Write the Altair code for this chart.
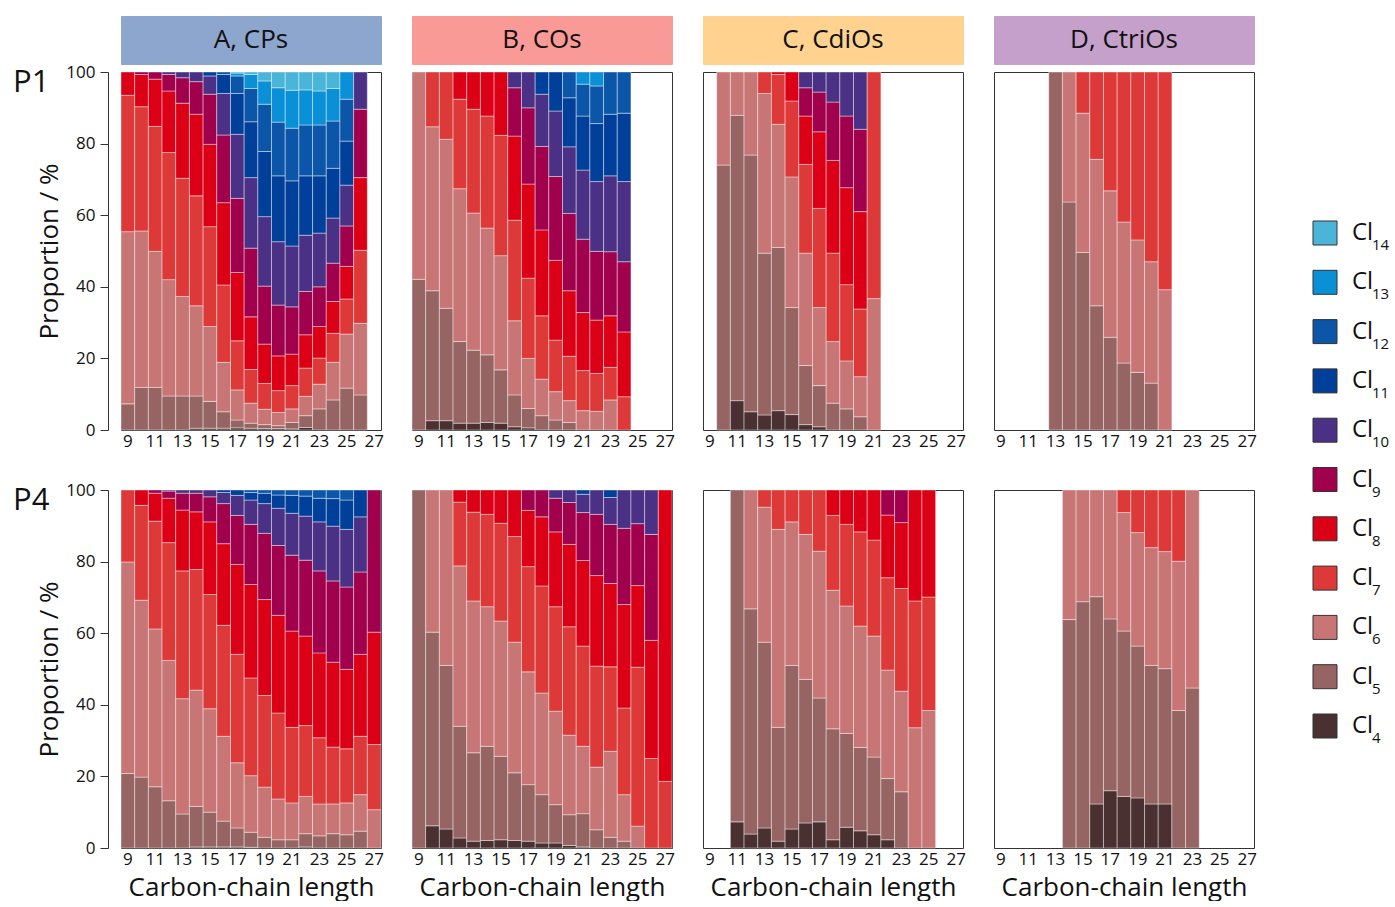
import altair as alt
import pandas as pd

FONT = "Open Sans"

CLASSES = ["Cl4", "Cl5", "Cl6", "Cl7", "Cl8", "Cl9", "Cl10", "Cl11", "Cl12", "Cl13", "Cl14"]
COLORS = ["#4A3030", "#966563", "#C87575", "#DE3939", "#DB0016", "#A0004C",
          "#4B3185", "#00409A", "#0B56A8", "#0A90D6", "#4AB5D8"]
CARBON = list(range(9, 28))

# proportions (%) of Cl4, Cl5, Cl6, ... for each carbon-chain length
A_P1 = {
    9: [0, 7.3, 48.1, 38.1, 6.5],
    10: [0, 11.9, 43.7, 34.7, 9.0, 0.7],
    11: [0, 11.9, 38.0, 34.9, 13.2, 2.0],
    12: [0, 9.5, 32.5, 35.5, 17.2, 4.6, 0.7],
    13: [0, 9.5, 27.8, 33.0, 21.0, 7.1, 1.6],
    14: [0.5, 9.0, 25.2, 30.7, 22.8, 9.1, 2.7],
    15: [0.5, 7.5, 20.9, 27.9, 23.0, 14.0, 5.1, 1.1],
    16: [0.5, 4.6, 13.8, 21.6, 23.0, 18.9, 11.6, 5.3, 0.7],
    17: [0.6, 2.2, 8.4, 13.7, 19.1, 20.7, 17.9, 11.4, 4.9, 0.8, 0.3],
    18: [0.5, 1.4, 5.6, 9.4, 14.7, 19.2, 19.7, 15.6, 9.3, 3.9, 0.7],
    19: [0.4, 1.1, 4.3, 7.2, 11.0, 16.2, 19.4, 18.2, 13.2, 6.5, 2.5],
    20: [0.4, 0.8, 3.7, 6.1, 9.7, 14.2, 17.7, 18.4, 15.0, 9.6, 4.4],
    21: [0.3, 1.8, 3.8, 6.5, 8.8, 13.2, 17.0, 18.2, 14.7, 10.6, 5.1],
    22: [0.7, 3.3, 5.4, 7.9, 9.3, 12.1, 15.7, 16.6, 14.2, 9.8, 5.0],
    23: [0, 5.9, 6.9, 7.3, 8.8, 11.1, 15.0, 16.0, 14.2, 9.5, 5.3],
    24: [0, 8.4, 10.5, 8.1, 8.9, 10.7, 12.6, 13.9, 13.2, 9.1, 4.6],
    25: [0, 11.7, 15.1, 9.8, 9.1, 11.3, 11.4, 12.3, 11.7, 7.6],
    26: [0, 9.8, 20.0, 20.4, 20.3, 19.1, 10.4],
}
B_P1 = {
    9: [0, 42.1, 57.9],
    10: [2.6, 36.3, 45.8, 15.3],
    11: [2.6, 31.4, 47.2, 18.8],
    12: [1.9, 22.8, 42.7, 25.0, 7.6],
    13: [1.9, 20.4, 38.3, 29.0, 10.4],
    14: [2.1, 18.9, 35.4, 31.3, 12.3],
    15: [1.9, 14.9, 31.9, 33.6, 17.7],
    16: [0.9, 8.9, 20.7, 28.1, 23.5, 13.5, 4.4],
    17: [0.6, 5.4, 14.0, 22.4, 26.3, 21.3, 10.0],
    18: [0, 4.0, 10.2, 17.7, 24.0, 23.3, 14.6, 6.2],
    19: [0, 2.8, 7.9, 14.4, 22.3, 23.4, 18.3, 10.9],
    20: [0, 2.1, 6.1, 12.4, 18.3, 21.6, 18.6, 13.7, 7.2],
    21: [0, 0, 5.4, 11.2, 16.2, 20.5, 19.3, 15.1, 8.9, 3.4],
    22: [0, 0, 5.2, 10.6, 14.9, 19.2, 19.5, 16.2, 10.5, 3.9],
    23: [0, 0, 8.4, 9.1, 14.4, 17.9, 21.2, 17.2, 11.8],
    24: [0, 0, 0, 9.3, 18.1, 19.6, 22.4, 19.1, 11.5],
}
C_P1 = {
    10: [0, 74.0, 26.0],
    11: [8.2, 79.7, 12.1],
    12: [5.1, 71.7, 23.2],
    13: [4.2, 45.2, 44.6, 6.0],
    14: [5.4, 45.6, 34.4, 13.9, 0.7],
    15: [4.3, 29.9, 36.5, 21.2, 8.1],
    16: [1.5, 16.5, 31.4, 24.8, 13.5, 7.9, 4.4],
    17: [0.9, 11.5, 21.8, 27.7, 21.4, 11.1, 5.6],
    18: [0, 7.5, 17.2, 24.7, 25.9, 16.3, 8.4],
    19: [0, 5.9, 13.4, 21.3, 27.1, 20.0, 12.3],
    20: [0, 3.7, 11.2, 18.9, 27.2, 23.0, 16.0],
    21: [0, 0, 36.7, 63.3],
}
D_P1 = {
    13: [0, 100],
    14: [0, 63.7, 36.3],
    15: [0, 49.6, 38.9, 11.5],
    16: [0, 34.7, 40.9, 24.4],
    17: [0, 25.9, 40.9, 33.2],
    18: [0, 18.7, 39.4, 41.9],
    19: [0, 16.1, 37.0, 46.9],
    20: [0, 13.1, 33.9, 53.0],
    21: [0, 0, 39.2, 60.8],
}
A_P4 = {
    9: [0, 20.8, 59.1, 20.1],
    10: [0, 19.8, 49.4, 26.5, 4.3],
    11: [0, 17.1, 44.1, 30.1, 7.8, 0.9],
    12: [0, 13.2, 39.2, 32.9, 12.4, 2.0, 0.3],
    13: [0, 9.5, 32.2, 35.7, 17.0, 4.7, 0.9],
    14: [0.3, 11.3, 32.5, 33.7, 16.1, 5.2, 0.9],
    15: [0.3, 9.7, 28.9, 31.9, 20.3, 7.0, 1.9],
    16: [0.3, 7.2, 23.7, 31.0, 22.8, 11.2, 3.1, 0.7],
    17: [0.3, 5.3, 18.2, 30.3, 25.1, 13.7, 5.6, 1.5],
    18: [0.2, 4.2, 15.8, 27.3, 26.1, 16.8, 6.8, 2.1, 0.7],
    19: [0, 3.0, 14.0, 25.6, 26.8, 18.5, 8.3, 2.9, 0.9],
    20: [0, 2.3, 11.4, 24.0, 27.3, 19.5, 10.4, 3.7, 1.4],
    21: [0, 2.3, 10.3, 21.1, 26.9, 21.2, 11.7, 5.0, 1.5],
    22: [0.3, 3.7, 10.4, 19.8, 25.0, 21.2, 12.3, 5.6, 1.7],
    23: [0, 3.4, 8.9, 18.5, 23.7, 22.9, 13.7, 6.6, 2.3],
    24: [0, 4.0, 8.3, 15.9, 23.7, 22.7, 15.3, 7.7, 2.4],
    25: [0, 3.7, 8.9, 15.1, 22.2, 23.0, 16.1, 8.2, 2.8],
    26: [0, 4.7, 10.2, 16.3, 22.9, 23.0, 15.4, 7.5],
    27: [0, 0, 10.7, 18.2, 31.4, 39.7],
}
B_P4 = {
    9: [0, 100],
    10: [6.2, 54.1, 39.7],
    11: [5.3, 45.7, 49.0],
    12: [2.8, 31.2, 44.8, 17.8, 3.4],
    13: [1.9, 24.7, 42.4, 24.8, 6.2],
    14: [2.1, 26.3, 39.0, 25.8, 6.8],
    15: [2.3, 23.3, 37.8, 27.3, 9.3],
    16: [2.1, 18.9, 36.5, 29.5, 13.0],
    17: [1.9, 15.8, 31.5, 29.4, 15.7, 5.7],
    18: [1.4, 13.5, 28.4, 29.9, 19.3, 7.5],
    19: [1.4, 10.7, 26.1, 29.2, 20.9, 9.4, 2.3],
    20: [0.7, 8.6, 22.2, 30.3, 23.0, 11.7, 3.5],
    21: [0.3, 9.3, 18.8, 28.0, 23.9, 13.4, 5.1, 1.2],
    22: [0, 5.1, 17.5, 28.2, 25.3, 17.1, 6.8],
    23: [0, 3.0, 24.0, 23.6, 23.3, 16.5, 7.5, 2.1],
    24: [0, 1.9, 13.0, 24.2, 28.9, 21.3, 10.7],
    25: [0, 0, 6.1, 44.4, 22.8, 17.3, 9.4],
    26: [0, 0, 0, 25.0, 33.0, 29.6, 12.4],
    27: [0, 0, 0, 18.6, 81.4],
}
C_P4 = {
    11: [7.3, 92.7],
    12: [3.9, 62.9, 33.2],
    13: [5.6, 51.9, 37.7, 4.8],
    14: [1.9, 31.8, 55.3, 11.0],
    15: [5.3, 45.7, 40.1, 8.9],
    16: [7.0, 40.1, 40.5, 12.4],
    17: [7.3, 34.6, 41.0, 17.1],
    18: [2.3, 31.0, 38.7, 20.9, 7.1],
    19: [5.8, 26.2, 35.6, 22.8, 9.6],
    20: [4.8, 23.3, 33.9, 26.3, 11.7],
    21: [3.7, 21.7, 33.8, 26.8, 14.0],
    22: [2.3, 17.1, 30.3, 25.8, 17.5, 7.0],
    23: [0, 15.7, 28.1, 28.7, 18.4, 9.1],
    24: [0, 0, 33.6, 35.4, 31.0],
    25: [0, 0, 38.4, 31.7, 29.9],
}
D_P4 = {
    14: [0, 63.8, 36.2],
    15: [0, 68.8, 31.2],
    16: [12.3, 57.9, 29.8],
    17: [16.0, 48.0, 36.0],
    18: [14.4, 46.2, 33.1, 6.3],
    19: [14.0, 42.4, 31.7, 11.9],
    20: [12.3, 38.7, 32.9, 16.1],
    21: [12.3, 37.8, 32.7, 17.2],
    22: [0, 38.4, 41.7, 19.9],
    23: [0, 44.7, 55.3],
}

HEADERS = [("A", "A, CPs", "#8DA6CE"), ("B", "B, COs", "#F99A97"),
           ("C", "C, CdiOs", "#FFD28F"), ("D", "D, CtriOs", "#C4A0CB")]
TABLES = {("P1", "A"): A_P1, ("P1", "B"): B_P1, ("P1", "C"): C_P1, ("P1", "D"): D_P1,
          ("P4", "A"): A_P4, ("P4", "B"): B_P4, ("P4", "C"): C_P4, ("P4", "D"): D_P4}

records = []
for (row, col), table in TABLES.items():
    for c, props in table.items():
        for i, v in enumerate(props):
            if v > 0:
                records.append({"row": row, "col": col, "carbon": c, "cl": CLASSES[i], "k": i, "value": v})
df = pd.DataFrame(records)

PW, PH = 260, 358
AXIS_COLOR = "#333333"
ROW_LABEL_X = -108


def panel(row, col):
    d = df[(df["row"] == row) & (df["col"] == col)]
    xscale = alt.Scale(domain=CARBON, paddingInner=0, paddingOuter=0)
    if row == "P4":
        x = alt.X("carbon:O", title="Carbon-chain length", scale=xscale,
                  axis=alt.Axis(values=list(range(9, 28, 2)), labelAngle=0, ticks=False, domain=False,
                                labelFontSize=17, labelPadding=3, titleFontSize=26,
                                titleFontWeight="normal", titlePadding=7))
    else:
        x = alt.X("carbon:O", title=None, scale=xscale,
                  axis=alt.Axis(values=list(range(9, 28, 2)), labelAngle=0, ticks=False, domain=False,
                                labelFontSize=17, labelPadding=3))
    if col == "A":
        y = alt.Y("value:Q", stack="normalize", title="Proportion / %",
                  scale=alt.Scale(domain=[0, 1], nice=False),
                  axis=alt.Axis(values=[0, 0.2, 0.4, 0.6, 0.8, 1.0], labelExpr="round(datum.value*100)",
                                offset=13, tickSize=8, grid=False, domainColor=AXIS_COLOR,
                                tickColor=AXIS_COLOR, labelFontSize=17, labelPadding=5,
                                titleFontSize=26, titleFontWeight="normal", titlePadding=3))
    else:
        y = alt.Y("value:Q", stack="normalize", scale=alt.Scale(domain=[0, 1], nice=False), axis=None)
    bars = alt.Chart(d).mark_bar(stroke="white", strokeWidth=0.8, strokeOpacity=0.5).encode(
        x=x, y=y,
        color=alt.Color("cl:N", scale=alt.Scale(domain=CLASSES, range=COLORS), legend=None),
        order=alt.Order("k:Q", sort="ascending"),
    )
    if col == "A":
        lab = alt.Chart(pd.DataFrame({"t": [row]})).mark_text(
            align="left", baseline="alphabetic", fontSize=31, font=FONT, color="#111"
        ).encode(text="t:N", x=alt.value(ROW_LABEL_X), y=alt.value(20))
        return alt.layer(bars, lab).properties(width=PW, height=PH)
    return bars.properties(width=PW, height=PH)


def header(col, text, fill):
    t = alt.Chart(pd.DataFrame({"t": [text]})).mark_text(
        fontSize=26, font=FONT, color="#111", baseline="middle"
    ).encode(text="t:N", x=alt.value(PW / 2), y=alt.value(24))
    layers = [t]
    if col == "A":
        # invisible spacer so the header row lines up with the row labels
        ghost = alt.Chart(pd.DataFrame({"t": ["P1"]})).mark_text(
            align="left", baseline="middle", fontSize=10, font=FONT, opacity=0
        ).encode(text="t:N", x=alt.value(ROW_LABEL_X), y=alt.value(24))
        layers.append(ghost)
    return alt.layer(*layers).properties(
        width=PW, height=48, view=alt.ViewBackground(fill=fill, stroke=fill))


header_row = alt.hconcat(*[header(c, t, f) for c, t, f in HEADERS], spacing=29)
row1 = alt.hconcat(*[panel("P1", c) for c, _, _ in HEADERS], spacing=27)
row2 = alt.hconcat(*[panel("P4", c) for c, _, _ in HEADERS], spacing=27)
rows = alt.vconcat(row1, row2, spacing=30)
grid = alt.vconcat(header_row, rows, spacing=-3)

leg_df = pd.DataFrame({"cl": CLASSES[::-1], "sub": [c[2:] for c in CLASSES[::-1]]})
ly = alt.Y("cl:N", scale=alt.Scale(domain=CLASSES[::-1], range=[217, 710], padding=0), axis=None)
squares = alt.Chart(leg_df).mark_square(size=576, filled=True, opacity=1, stroke="#333", strokeWidth=1).encode(
    y=ly, x=alt.value(25),
    color=alt.Color("cl:N", scale=alt.Scale(domain=CLASSES, range=COLORS), legend=None))
cl_text = alt.Chart(leg_df).mark_text(align="left", baseline="middle", fontSize=24, font=FONT, color="#111").encode(
    y=ly, x=alt.value(52), text=alt.value("Cl"))
sub_text = alt.Chart(leg_df).mark_text(align="left", baseline="middle", fontSize=15, font=FONT, color="#111", dy=12).encode(
    y=ly, x=alt.value(72), text="sub:N")
ghost_top = alt.Chart(pd.DataFrame({"t": ["Cl"]})).mark_text(
    align="left", baseline="top", fontSize=10, font=FONT, opacity=0).encode(
    text="t:N", x=alt.value(13), y=alt.value(0))
legend = alt.layer(squares, cl_text, sub_text, ghost_top).properties(
    width=90, height=833, view=alt.ViewBackground(stroke="transparent", fill="transparent"))

chart = alt.hconcat(grid, legend, spacing=42).properties(
    padding={"left": 12, "top": 15, "right": 0, "bottom": 0}
).configure_view(stroke=AXIS_COLOR, strokeWidth=1).configure_axis(
    labelFont=FONT, titleFont=FONT, labelColor="#111", titleColor="#111"
).configure_text(font=FONT)

chart.save("out.html", embed_options={"renderer": "svg", "actions": False})
